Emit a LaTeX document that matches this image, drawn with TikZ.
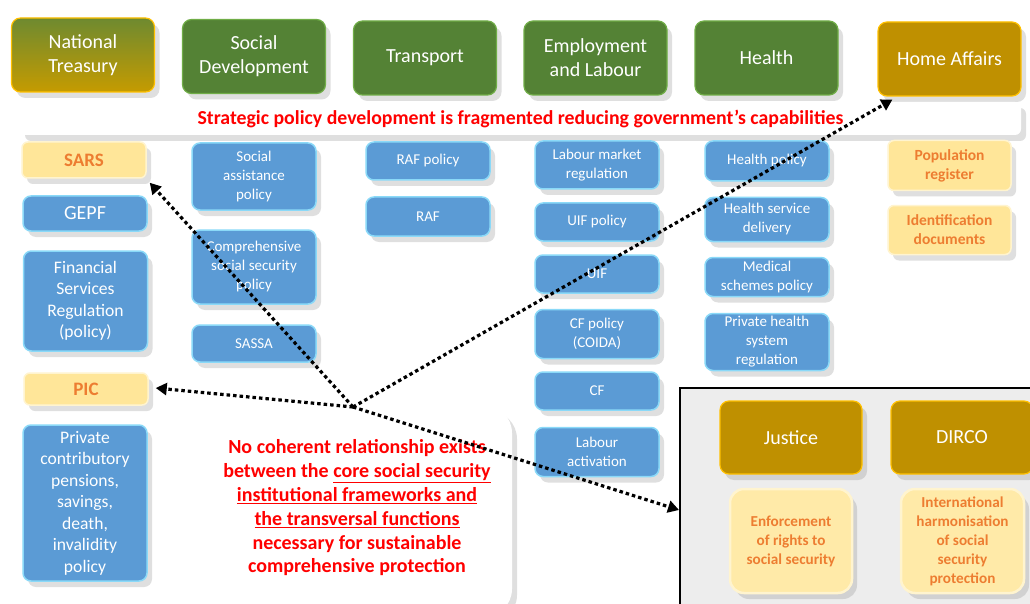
\documentclass[tikz,border=0pt]{standalone}
\usepackage{fontspec}
\setmainfont{Carlito}
\usetikzlibrary{shadows,arrows.meta,calc}
\definecolor{bluefill}{HTML}{5B9BD5}
\definecolor{blueedge}{HTML}{8AD9F8}
\definecolor{greenfill}{HTML}{548235}
\definecolor{greenedge}{HTML}{70AD47}
\definecolor{goldfill}{HTML}{BF9000}
\definecolor{goldedge}{HTML}{FFC000}
\definecolor{olivetop}{HTML}{6E8A30}
\definecolor{yelfill}{HTML}{FFE699}
\definecolor{yeledge}{HTML}{FFF4CF}
\definecolor{orangetxt}{HTML}{ED7D31}
\definecolor{redtxt}{HTML}{FF0000}
\definecolor{panelgray}{HTML}{EDEDED}
\begin{document}
\begin{tikzpicture}[x=1pt,y=-1pt,
  shd/.style={drop shadow={opacity=0.25,shadow xshift=5pt,shadow yshift=-6pt}},
  hdr/.style={shd,rounded corners=9pt,line width=1.2pt,text=white,align=center,
    inner sep=0pt,minimum width=143pt,minimum height=74pt,
    font=\fontsize{20}{24}\selectfont},
  greenhdr/.style={hdr,fill=greenfill,draw=greenedge},
  goldhdr/.style={hdr,fill=goldfill,draw=goldedge},
  bluebox/.style={shd,rounded corners=8pt,fill=bluefill,draw=blueedge,line width=1.5pt,
    text=white,align=center,inner sep=0pt,minimum width=124pt,
    font=\fontsize{15}{19}\selectfont},
  yelbox/.style={shd,rounded corners=6pt,fill=yelfill,draw=yeledge,line width=1.5pt,
    text=orangetxt,align=center,inner sep=0pt,minimum width=124pt,
    font=\bfseries\fontsize{15.5}{19}\selectfont},
  lightbox/.style={shd,rounded corners=14pt,fill=yelfill!85!white,draw=yeledge,line width=2.5pt,
    text=orangetxt,align=center,inner sep=0pt,minimum width=122pt,minimum height=104pt,
    font=\bfseries\fontsize{15.2}{19}\selectfont},
  darr/.style={line width=3.2pt,dash pattern=on 3.5pt off 3pt,
    -{Triangle[length=11pt,width=12pt]}},
]
\useasboundingbox (0,0) rectangle (1030,604);
\fill[white] (0,0) rectangle (1030,604);

% header row
\node[hdr,top color=olivetop,bottom color=goldfill!90!yellow,draw=goldedge] (nt) at (83,55) {National\\Treasury};
\node[greenhdr] (sd) at (254,56.5) {Social\\Development};
\node[greenhdr] (tr) at (425,58) {Transport};
\node[greenhdr] (el) at (595.5,58) {Employment\\and Labour};
\node[greenhdr] (he) at (766.5,58) {Health};
\node[goldhdr] (home) at (949.5,59) {Home Affairs};

% strip
\node[shd,fill=white,rounded corners=6pt,minimum width=1001pt,minimum height=33pt,inner sep=0pt,
  text=redtxt,font=\bfseries\fontsize{19.8}{22}\selectfont] (strip) at (520.5,118.5)
  {Strategic policy development is fragmented reducing government’s capabilities};

% column 1
\node[yelbox,minimum height=36pt,font=\bfseries\fontsize{19}{22}\selectfont] (sars) at (84,160) {SARS};
\node[bluebox,minimum height=35pt,font=\fontsize{20}{22}\selectfont] (gepf) at (85,213.5) {GEPF};
\node[bluebox,minimum height=100pt,font=\fontsize{17.6}{21.5}\selectfont] (fsr) at (85.5,301) {Financial\\Services\\Regulation\\(policy)};
\node[yelbox,minimum height=32pt,font=\bfseries\fontsize{19}{22}\selectfont] (pic) at (86,389) {PIC};
\node[bluebox,minimum height=156pt,font=\fontsize{17.6}{21.5}\selectfont] (pcp) at (85,503) {Private\\contributory\\pensions,\\savings,\\death,\\invalidity\\policy};

% column 2
\node[bluebox,minimum height=67pt] (sap) at (254,176.5) {Social\\assistance\\policy};
\node[bluebox,minimum height=74pt] (cssp) at (254,267) {Comprehensive\\social security\\policy};
\node[bluebox,minimum height=37pt] (sassa) at (254,343.5) {SASSA};

% column 3
\node[bluebox,minimum height=38pt] (rafp) at (428,161) {RAF policy};
\node[bluebox,minimum height=39pt] (raf) at (428,216.5) {RAF};

% column 4
\node[bluebox,minimum height=48pt] (lmr) at (597,165) {Labour market\\regulation};
\node[bluebox,minimum height=38pt] (uifp) at (597,222) {UIF policy};
\node[bluebox,minimum height=38pt] (uif) at (597,274) {UIF};
\node[bluebox,minimum height=49pt] (cfp) at (597,334) {CF policy\\(COIDA)};
\node[bluebox,minimum height=38pt] (cf) at (597,391) {CF};
\node[bluebox,minimum height=49pt] (la) at (597,452) {Labour\\activation};

% column 5
\node[bluebox,minimum height=40pt] (hp) at (767,161) {Health policy};
\node[bluebox,minimum height=44pt] (hsd) at (767,219.5) {Health service\\delivery};
\node[bluebox,minimum height=39pt] (msp) at (767,277) {Medical\\schemes policy};
\node[bluebox,minimum height=57pt] (phsr) at (767,342) {Private health\\system\\regulation};

% column 6
\node[yelbox,minimum width=123pt,minimum height=50pt] (pr) at (949.5,165.5) {Population\\register};
\node[yelbox,minimum width=123pt,minimum height=49pt] (idd) at (949.5,230) {Identification\\documents};

% transversal panel
\node[draw=black,fill=panelgray,line width=2pt,minimum width=356pt,minimum height=222pt,inner sep=0pt] (grp) at (858,499) {};
\node[goldhdr,minimum width=142pt,minimum height=73pt] (jus) at (791,437.5) {Justice};
\node[goldhdr,minimum width=142pt,minimum height=73pt] (dirco) at (962,437.5) {DIRCO};
\node[lightbox] (enf) at (791,541) {Enforcement\\of rights to\\social security};
\node[lightbox,minimum width=123pt] (intl) at (962.5,541) {International\\harmonisation\\of social\\security\\protection};

% callout
\node[shd,fill=white,rounded corners=28pt,minimum width=307pt,minimum height=212pt,inner sep=0pt] (note) at (358.5,511) {};
\node[text=redtxt,align=center,inner sep=0pt,font=\bfseries\fontsize{20}{23.8}\selectfont] (notetext) at (357,508)
  {No coherent relationship exists\\
   between the \underline{core social security}\\
   \underline{institutional frameworks and}\\
   \underline{the transversal functions}\\
   necessary for sustainable\\
   comprehensive protection};

% connectors
\coordinate (hub) at (353,407);
\draw[darr] (hub) -- ($(sars.south east)+(3,4)$);
\draw[darr] (hub) -- ($(pic.east)+(7,-1)$);
\draw[darr] (hub) -- ($(home.south west)+(15,3)$);
\draw[darr] (hub) -- ($(grp.west)+(0,11)$);
\end{tikzpicture}
\end{document}
